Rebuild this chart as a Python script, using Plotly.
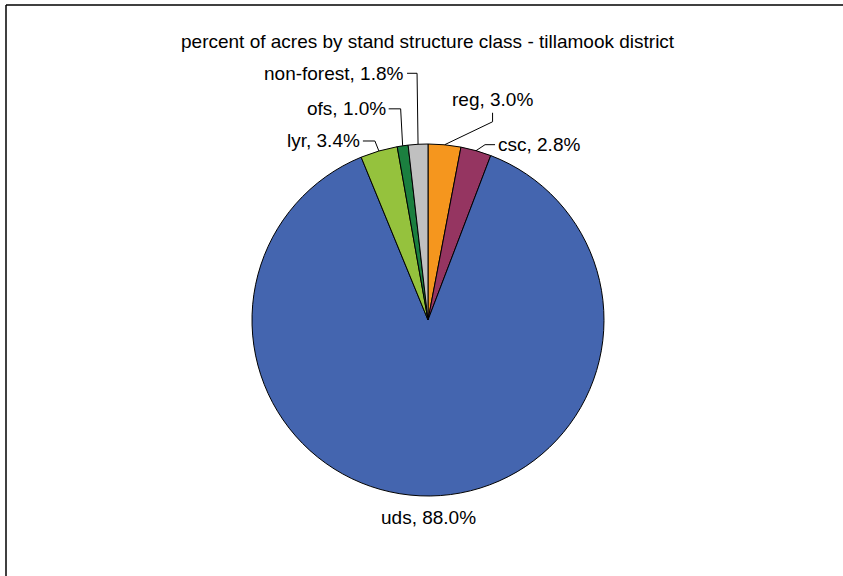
import math
import plotly.graph_objects as go

# ---- data ----
categories = ["reg", "csc", "uds", "lyr", "ofs", "non-forest"]
percents = [3.0, 2.8, 88.0, 3.4, 1.0, 1.8]
colors = ["#F5961E", "#953561", "#4465AF", "#95C23D", "#1B7F3F", "#C0C0C0"]
title_text = "percent of acres by stand structure class - tillamook district"

# ---- layout constants (pixels) ----
W, H = 843, 576
CX, CY, R = 428, 320, 176
FONT = "Liberation Sans, Arial, sans-serif"
FS = 19

# label placement relative to the slice's edge point (dx, dy), elbow and line end
label_layout = {
    "reg":        dict(text=(48, -45), anchor="center", pts=[(48, -23), (48, -32)]),
    "csc":        dict(text=(20, -6),  anchor="left",   pts=[(9, -6), (19, -6)]),
    "uds":        dict(text=(-2, 22),  anchor="center", pts=[]),
    "lyr":        dict(text=(-17, -10), anchor="right", pts=[(-4, -10), (-16, -10)]),
    "ofs":        dict(text=(-15, -37), anchor="right", pts=[(-2, -37), (-14, -37)]),
    "non-forest": dict(text=(-12, -71), anchor="right", pts=[(-1, -71), (-11, -71)]),
}

def px(x):
    return x / W

def py(y):
    return 1 - y / H

fig = go.Figure(go.Pie(
    labels=categories,
    values=percents,
    sort=False,
    direction="clockwise",
    rotation=0,
    marker=dict(colors=colors, line=dict(color="#000000", width=1)),
    textinfo="none",
    hoverinfo="label+percent",
    showlegend=False,
    domain=dict(x=[px(CX - R), px(CX + R)], y=[py(CY + R), py(CY - R)]),
))

total = sum(percents)
cum = 0.0
annotations = []
shapes = []
for cat, val in zip(categories, percents):
    mid = (cum + val / 2) / total * 2 * math.pi
    cum += val
    ex = CX + R * math.sin(mid)
    ey = CY - R * math.cos(mid)
    lay = label_layout[cat]
    tx, ty = ex + lay["text"][0], ey + lay["text"][1]
    annotations.append(dict(
        x=px(tx), y=py(ty), xref="paper", yref="paper",
        text=f"{cat}, {val:.1f}%", showarrow=False,
        xanchor=lay["anchor"], yanchor="middle",
        font=dict(family=FONT, size=FS, color="#000000"),
    ))
    if lay["pts"]:
        pts = [(ex, ey)] + [(ex + dx, ey + dy) for dx, dy in lay["pts"]]
        path = "M " + " L ".join(f"{px(x)},{py(y)}" for x, y in pts)
        shapes.append(dict(type="path", xref="paper", yref="paper", path=path,
                           line=dict(color="#000000", width=1)))

# outer frame (left and top edges visible)
shapes.append(dict(type="line", xref="paper", yref="paper",
                   x0=px(6), y0=py(5), x1=px(6), y1=-0.05,
                   line=dict(color="#000000", width=1.5)))
shapes.append(dict(type="line", xref="paper", yref="paper",
                   x0=px(6), y0=py(5), x1=1.05, y1=py(5),
                   line=dict(color="#000000", width=1.5)))

annotations.append(dict(
    x=px(CX), y=py(41), xref="paper", yref="paper", text=title_text,
    showarrow=False, xanchor="center", yanchor="middle",
    font=dict(family=FONT, size=FS, color="#000000"),
))

fig.update_layout(
    width=W, height=H,
    margin=dict(l=0, r=0, t=0, b=0),
    paper_bgcolor="#FFFFFF", plot_bgcolor="#FFFFFF",
    annotations=annotations, shapes=shapes,
)

fig.write_html("out.html",
               config={"displayModeBar": False},
               post_script="document.body.style.margin='0';document.body.style.overflow='hidden';")
